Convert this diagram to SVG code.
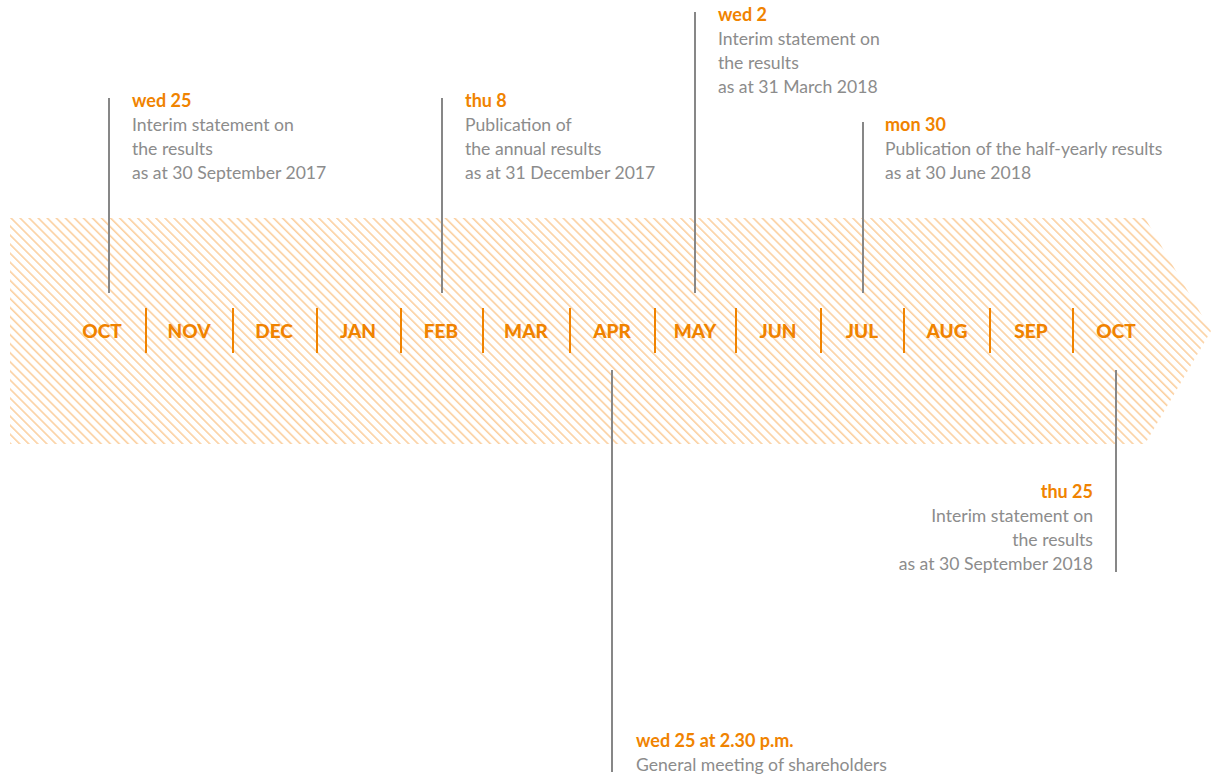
<svg xmlns="http://www.w3.org/2000/svg" width="1211" height="776" viewBox="0 0 1211 776">
<style>
.m{font-family:Lato,"Open Sans",sans-serif;font-weight:900;font-size:19px;fill:#F08300;text-anchor:middle}
.d{font-family:Lato,"Open Sans",sans-serif;font-weight:700;font-size:18px;fill:#F08300}
.t{font-family:Lato,"Open Sans",sans-serif;font-size:17.6px;fill:#8C8C8C}
.sep{stroke:#F08300;stroke-width:2}
.lead{stroke:#878787;stroke-width:2}
</style>
<defs>
<pattern id="hatch" patternUnits="userSpaceOnUse" width="6.4" height="20" patternTransform="rotate(-45)">
<rect x="0" y="0" width="1.6" height="20" fill="#FBD0A0"/>
</pattern>
</defs>
<g id="band">
<polygon points="10,218 1145,218 1211,331 1145,444 10,444" fill="url(#hatch)"/>
</g>
<g id="months">
<text class="m" x="102" y="338">OCT</text>
<text class="m" x="189" y="338">NOV</text>
<text class="m" x="274" y="338">DEC</text>
<text class="m" x="358" y="338">JAN</text>
<text class="m" x="441" y="338">FEB</text>
<text class="m" x="526" y="338">MAR</text>
<text class="m" x="612" y="338">APR</text>
<text class="m" x="695" y="338">MAY</text>
<text class="m" x="778" y="338">JUN</text>
<text class="m" x="862" y="338">JUL</text>
<text class="m" x="947" y="338">AUG</text>
<text class="m" x="1031" y="338">SEP</text>
<text class="m" x="1116" y="338">OCT</text>
<g id="separators">
<line class="sep" x1="146" y1="308" x2="146" y2="353"/>
<line class="sep" x1="233" y1="308" x2="233" y2="353"/>
<line class="sep" x1="317" y1="308" x2="317" y2="353"/>
<line class="sep" x1="401" y1="308" x2="401" y2="353"/>
<line class="sep" x1="483" y1="308" x2="483" y2="353"/>
<line class="sep" x1="570" y1="308" x2="570" y2="353"/>
<line class="sep" x1="655" y1="308" x2="655" y2="353"/>
<line class="sep" x1="736" y1="308" x2="736" y2="353"/>
<line class="sep" x1="821" y1="308" x2="821" y2="353"/>
<line class="sep" x1="904" y1="308" x2="904" y2="353"/>
<line class="sep" x1="990" y1="308" x2="990" y2="353"/>
<line class="sep" x1="1073" y1="308" x2="1073" y2="353"/>
</g>
</g>
<g id="connectors">
<line class="lead" x1="109" y1="98" x2="109" y2="293"/>
<line class="lead" x1="442" y1="98" x2="442" y2="293"/>
<line class="lead" x1="695" y1="12" x2="695" y2="293"/>
<line class="lead" x1="863" y1="122" x2="863" y2="293"/>
<line class="lead" x1="612" y1="370" x2="612" y2="772"/>
<line class="lead" x1="1116" y1="370" x2="1116" y2="572"/>
</g>
<g id="event-oct2017">
<text class="d" x="132" y="107">wed 25</text>
<text class="t" x="132" y="131">Interim statement on</text>
<text class="t" x="132" y="155">the results</text>
<text class="t" x="132" y="179">as at 30 September 2017</text>
</g>
<g id="event-feb2018">
<text class="d" x="465" y="107">thu 8</text>
<text class="t" x="465" y="131">Publication of</text>
<text class="t" x="465" y="155">the annual results</text>
<text class="t" x="465" y="179">as at 31 December 2017</text>
</g>
<g id="event-may2018">
<text class="d" x="718" y="21">wed 2</text>
<text class="t" x="718" y="45">Interim statement on</text>
<text class="t" x="718" y="69">the results</text>
<text class="t" x="718" y="93">as at 31 March 2018</text>
</g>
<g id="event-jul2018">
<text class="d" x="885" y="131">mon 30</text>
<text class="t" x="885" y="155">Publication of the half-yearly results</text>
<text class="t" x="885" y="179">as at 30 June 2018</text>
</g>
<g id="event-apr2018">
<text class="d" x="636" y="747">wed 25 at 2.30 p.m.</text>
<text class="t" x="636" y="771">General meeting of shareholders</text>
</g>
<g id="event-oct2018" text-anchor="end">
<text class="d" x="1093" y="498">thu 25</text>
<text class="t" x="1093" y="522">Interim statement on</text>
<text class="t" x="1093" y="546">the results</text>
<text class="t" x="1093" y="570">as at 30 September 2018</text>
</g>
</svg>
